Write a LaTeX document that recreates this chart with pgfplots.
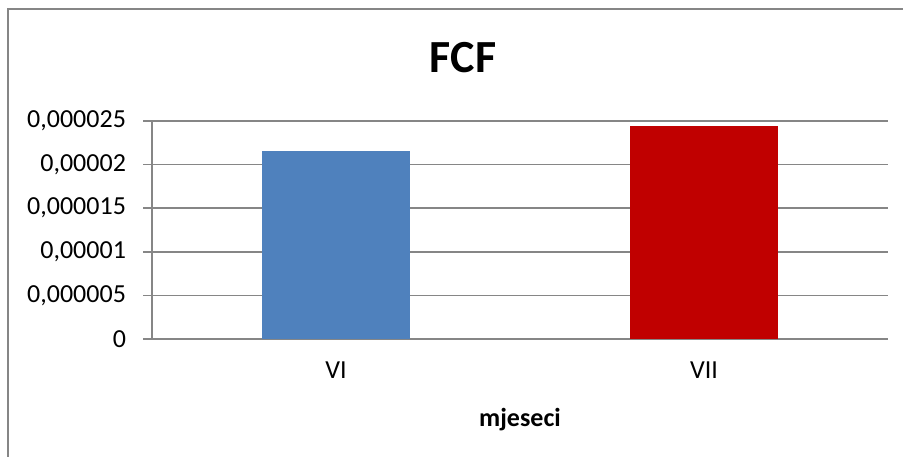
\documentclass[border=0pt]{standalone}
\usepackage{pgfplots}
\pgfplotsset{compat=1.18}
\usepackage{fontspec}
\setmainfont{Carlito}

\definecolor{barblue}{HTML}{4F81BD}
\definecolor{barred}{HTML}{C00000}
\definecolor{gridgray}{HTML}{868686}

\begin{document}
\begin{tikzpicture}
% page = 903x456 px, 1px = 0.5pt
\path[use as bounding box] (0pt,0pt) rectangle (451.5pt,-228pt);
\clip (0pt,0pt) rectangle (451.5pt,-228pt);
% chart frame (its right and bottom sides fall off the page)
\draw[gridgray, line width=1pt] (4pt,-4.5pt) rectangle (500pt,-300pt);

\node[font=\fontsize{23}{27}\selectfont\bfseries] at (231.5pt,-29pt) {FCF};

\begin{axis}[
    at={(76pt,-169.5pt)}, anchor=south west,
    scale only axis,
    width=368pt, height=109pt,
    xmin=-0.5, xmax=1.5,
    ymin=0, ymax=0.000025,
    axis x line*=bottom, axis y line*=left,
    axis line style={gridgray, line width=0.8pt, -},
    xtick={0,1}, xticklabels={VI,VII},
    x tick style={draw=none},
    extra x ticks={-0.5,0.5,1.5}, extra x tick labels={},
    extra x tick style={grid=none, tick style={draw=gridgray, line width=0.8pt}, major tick length=4pt, tick align=outside},
    ytick={0,0.000005,0.00001,0.000015,0.00002,0.000025},
    yticklabels={0,{0,000005},{0,00001},{0,000015},{0,00002},{0,000025}},
    scaled y ticks=false,
    ymajorgrids, major grid style={gridgray, line width=0.8pt},
    y tick style={gridgray, line width=0.8pt},
    major tick length=4.5pt, tick align=outside,
    tick label style={font=\fontsize{13}{15.6}\selectfont},
    xticklabel style={yshift=-3.5pt},
    yticklabel style={xshift=-5pt},
    xlabel={mjeseci},
    xlabel style={font=\fontsize{13}{15.6}\selectfont\bfseries, yshift=0.5pt},
    ybar, bar width=0.4, bar shift=0pt,
    clip=false,
]
\addplot[fill=barblue, draw=none] coordinates {(0, 0.0000216)};
\addplot[fill=barred, draw=none] coordinates {(1, 0.0000244)};
\end{axis}
\end{tikzpicture}
\end{document}
